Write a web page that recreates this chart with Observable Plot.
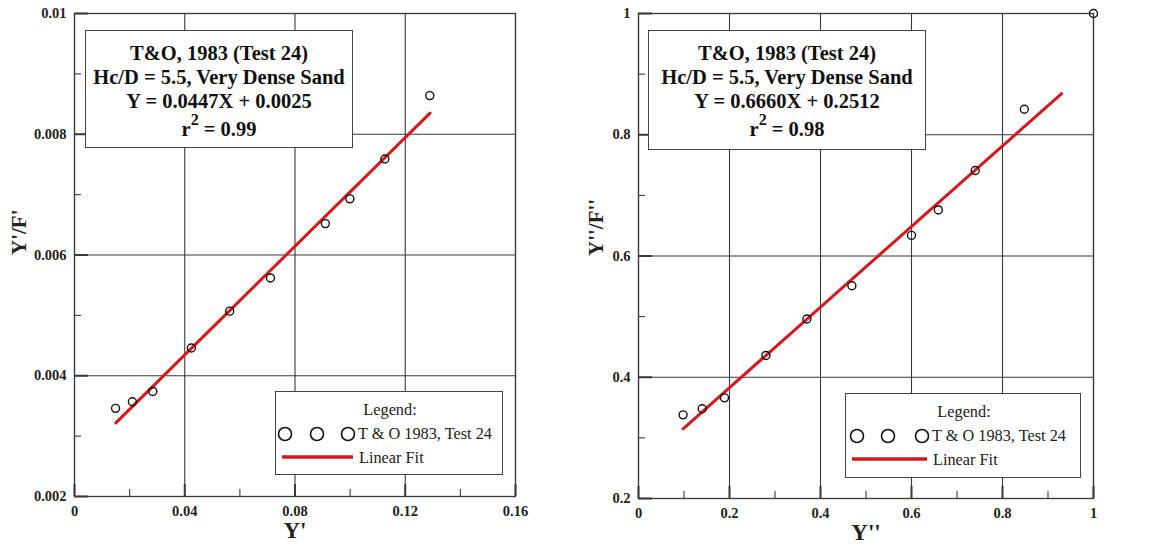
<!DOCTYPE html>
<html>
<head>
<meta charset="utf-8">
<script src="https://cdn.jsdelivr.net/npm/d3@7"></script>
<script src="https://cdn.jsdelivr.net/npm/@observablehq/plot@0.6"></script>
<style>
  html, body { margin: 0; padding: 0; background: #fff; }
  #wrap { position: relative; width: 1149px; height: 550px; overflow: hidden; font-family: "Liberation Serif", "Times New Roman", serif; }
  #wrap svg.plot { position: absolute; top: 0; }
  .tbox { position: absolute; background: #fff; border: 1px solid #444; box-sizing: border-box;
          font-weight: bold; font-size: 20.5px; text-align: center; line-height: 24px; padding-top: 10px; color: #111; }
  .tbox sup { font-size: 16px; line-height: 0; position: relative; top: -3px; vertical-align: super; }
  .lbox { position: absolute; background: #fff; border: 1px solid #444; box-sizing: border-box; font-size: 16.3px; color: #222; }
  .lbox .t { position: absolute; line-height: 16px; white-space: nowrap; }
</style>
</head>
<body>
<div id="wrap"></div>
<script>
// ---- Data ----
const leftX = [0.0149, 0.0210, 0.0284, 0.0424, 0.0563, 0.0711, 0.0910, 0.0999, 0.1126, 0.1289];
const leftY = [0.00346, 0.00357, 0.00374, 0.00446, 0.00507, 0.00562, 0.00652, 0.00693, 0.00759, 0.00864];
const leftFitX = [0.015, 0.129];
const leftFitY = [0.00322, 0.00835];
const leftXTicks = [0, 0.04, 0.08, 0.12, 0.16];
const leftXMinor = [0.02, 0.06, 0.10, 0.14];
const leftYTicks = [0.002, 0.004, 0.006, 0.008, 0.01];
const leftYMinor = [0.003, 0.005, 0.007, 0.009];
const leftBox = ["T&O, 1983 (Test 24)", "Hc/D = 5.5, Very Dense Sand", "Y = 0.0447X + 0.0025", "0.99"];

const rightX = [0.098, 0.140, 0.189, 0.280, 0.370, 0.469, 0.600, 0.659, 0.740, 0.848, 1.0];
const rightY = [0.338, 0.348, 0.366, 0.436, 0.496, 0.551, 0.634, 0.676, 0.741, 0.842, 1.0];
const rightFitX = [0.098, 0.930];
const rightFitY = [0.315, 0.868];
const rightXTicks = [0, 0.2, 0.4, 0.6, 0.8, 1];
const rightXMinor = [0.1, 0.3, 0.5, 0.7, 0.9];
const rightYTicks = [0.2, 0.4, 0.6, 0.8, 1];
const rightYMinor = [0.3, 0.5, 0.7, 0.9];
const rightBox = ["T&O, 1983 (Test 24)", "Hc/D = 5.5, Very Dense Sand", "Y = 0.6660X + 0.2512", "0.98"];

const legendTitle = "Legend:";
const seriesName = "T & O 1983, Test 24";
const fitName = "Linear Fit";

const RED = "#d4181c";
const GRID = "#3a3a3a";
const fmt = d3.format("~g");

function makePlot(o) {
  const ph = o.height - o.mt - o.mb;
  const pw = o.width - o.ml - o.mr;
  const pts = o.xs.map((x, i) => ({x, y: o.ys[i]}));
  const fit = o.fx.map((x, i) => ({x, y: o.fy[i]}));
  const svg = Plot.plot({
    width: o.width, height: o.height,
    marginLeft: o.ml, marginRight: o.mr, marginTop: o.mt, marginBottom: o.mb,
    style: {fontFamily: "Liberation Serif, serif", fontSize: "14.5px", fontWeight: "bold", background: "#fff", color: "#222"},
    x: {domain: o.xd, ticks: o.xt},
    y: {domain: o.yd, ticks: o.yt},
    marks: [
      Plot.gridX(o.xt, {stroke: GRID, strokeOpacity: 1, strokeWidth: 1.1}),
      Plot.gridY(o.yt, {stroke: GRID, strokeOpacity: 1, strokeWidth: 1.1}),
      Plot.tickX(o.xmin, {x: d => d, stroke: GRID, strokeWidth: 1.1, insetTop: ph - 7}),
      Plot.tickY(o.ymin, {y: d => d, stroke: GRID, strokeWidth: 1.1, insetRight: pw - 7}),
      Plot.tickX(o.xt, {x: d => d, stroke: GRID, strokeWidth: 2, insetTop: ph - 12}),
      Plot.tickY(o.yt, {y: d => d, stroke: GRID, strokeWidth: 2, insetRight: pw - 14}),
      Plot.frame({stroke: GRID, strokeWidth: 1.3}),
      Plot.axisX(o.xt, {tickSize: 0, tickPadding: 9, label: null, fill: "#222", tickFormat: fmt}),
      Plot.axisY(o.yt, {tickSize: 0, tickPadding: 8, label: null, fill: "#222", tickFormat: fmt}),
      Plot.text([o.xlabel], {frameAnchor: "bottom", dy: 41, fontSize: 23, fill: "#222"}),
      Plot.text([o.ylabel], {frameAnchor: "left", dx: -o.ylOff, rotate: -90, fontSize: 21, fill: "#222"}),
      Plot.line(fit, {x: "x", y: "y", stroke: RED, strokeWidth: 3}),
      Plot.dot(pts, {x: "x", y: "y", r: 4, stroke: "#111", strokeWidth: 1.4, fill: "none"})
    ]
  });
  svg.classList.add("plot");
  svg.style.left = o.left + "px";
  return svg;
}

const wrap = document.getElementById("wrap");

wrap.appendChild(makePlot({
  left: 0, width: 575, height: 550, ml: 74, mr: 60, mt: 13, mb: 54,
  xs: leftX, ys: leftY, fx: leftFitX, fy: leftFitY,
  xd: [0, 0.16], yd: [0.002, 0.01], xt: leftXTicks, yt: leftYTicks,
  xmin: leftXMinor, ymin: leftYMinor, xlabel: "Y'", ylabel: "Y'/F'", ylOff: 55
}));
wrap.appendChild(makePlot({
  left: 575, width: 574, height: 550, ml: 63, mr: 56, mt: 13, mb: 52,
  xs: rightX, ys: rightY, fx: rightFitX, fy: rightFitY,
  xd: [0, 1], yd: [0.2, 1], xt: rightXTicks, yt: rightYTicks,
  xmin: rightXMinor, ymin: rightYMinor, xlabel: "Y''", ylabel: "Y''/F''", ylOff: 42
}));

function titleBox(lines, left, top, w, h) {
  const d = document.createElement("div");
  d.className = "tbox";
  Object.assign(d.style, {left: left + "px", top: top + "px", width: w + "px", height: h + "px"});
  d.innerHTML = `<div>${lines[0].replace("&", "&amp;")}</div><div>${lines[1]}</div><div>${lines[2]}</div><div style="margin-top:4px">r<sup>2</sup> = ${lines[3]}</div>`;
  wrap.appendChild(d);
}
titleBox(leftBox, 85, 30, 268, 118);
titleBox(rightBox, 648, 30, 278, 120);

function legendBox(left, top, w, h, cx, textX, lineX2) {
  const d = document.createElement("div");
  d.className = "lbox";
  Object.assign(d.style, {left: left + "px", top: top + "px", width: w + "px", height: h + "px"});
  const s = d3.create("svg").attr("width", w).attr("height", h)
    .style("position", "absolute").style("left", "-1px").style("top", "-1px");
  cx.forEach(x => s.append("circle").attr("cx", x).attr("cy", 43).attr("r", 6.5)
    .attr("fill", "none").attr("stroke", "#111").attr("stroke-width", 1.6));
  s.append("line").attr("x1", 7).attr("x2", lineX2).attr("y1", 66).attr("y2", 66)
    .attr("stroke", RED).attr("stroke-width", 3.5);
  d.appendChild(s.node());
  const t0 = document.createElement("div");
  t0.className = "t"; t0.textContent = legendTitle;
  Object.assign(t0.style, {left: "0px", width: w + "px", textAlign: "center", top: "10px"});
  const t1 = document.createElement("div");
  t1.className = "t"; t1.textContent = seriesName;
  Object.assign(t1.style, {left: textX + "px", top: "34px"});
  const t2 = document.createElement("div");
  t2.className = "t"; t2.textContent = fitName;
  Object.assign(t2.style, {left: (textX + 1) + "px", top: "58px"});
  d.append(t0, t1, t2);
  wrap.appendChild(d);
}
legendBox(275, 391, 228, 84, [10, 42, 73], 82, 78);
legendBox(845, 393, 236, 85, [12, 43, 77], 86, 82);
</script>
</body>
</html>
